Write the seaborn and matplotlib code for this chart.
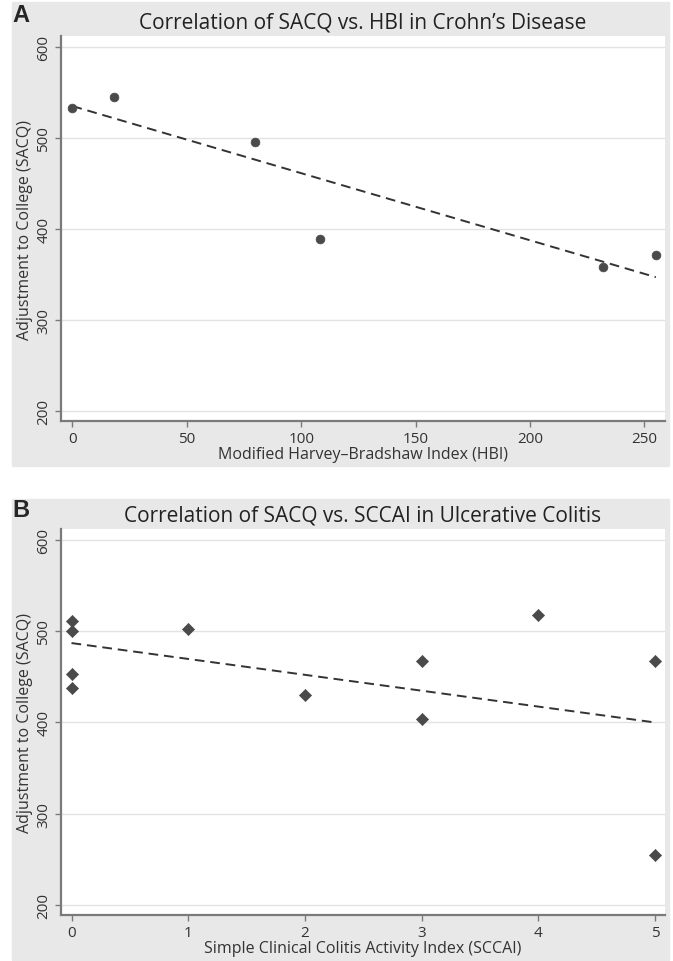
import seaborn as sns
import matplotlib.pyplot as plt
from matplotlib.patches import Rectangle

# Dados
hbi = [0, 18, 80, 108, 232, 255]
sacq_cd = [533, 545, 496, 389, 358, 371]
fit_cd_x = [0, 255]
fit_cd_y = [535, 347]

sccai = [0, 0, 0, 0, 1, 2, 3, 3, 4, 5, 5]
sacq_uc = [511, 500, 453, 438, 502, 430, 467, 404, 518, 467, 255]
fit_uc_x = [0, 5]
fit_uc_y = [487, 400]

y_ticks = [200, 300, 400, 500, 600]

sns.set_style("white")
plt.rcParams['font.family'] = ['Open Sans', 'DejaVu Sans']

W, H = 673, 962
fig = plt.figure(figsize=(W / 100, H / 100), dpi=100)

gray = '#e8e8e8'
axis_c = '#7a7a7a'
mark_c = '#4a4a4a'

# Fundo cinza de cada painel
fig.add_artist(Rectangle((12 / W, 1 - 467 / H), 657 / W, 464 / H,
                         transform=fig.transFigure, color=gray, zorder=0))
fig.add_artist(Rectangle((12 / W, 1 - 961 / H), 657 / W, 461 / H,
                         transform=fig.transFigure, color=gray, zorder=0))

axA = fig.add_axes([61 / W, 1 - 422 / H, 604 / W, 385 / H])
axB = fig.add_axes([61 / W, 1 - 916 / H, 604 / W, 386 / H])


def style(ax, xlim, xticks, xlabel, title):
    ax.set_facecolor('white')
    ax.set_ylim(189, 612)
    ax.set_xlim(*xlim)
    ax.set_yticks(y_ticks)
    ax.set_xticks(xticks)
    ax.yaxis.grid(True, color='#e2e2e2', lw=1)
    ax.set_axisbelow(True)
    for s in ['top', 'right']:
        ax.spines[s].set_visible(False)
    for s in ['left', 'bottom']:
        ax.spines[s].set_color(axis_c)
        ax.spines[s].set_linewidth(1.6)
    ax.tick_params(axis='both', direction='out', color=axis_c, length=4,
                   width=1, labelsize=11, labelcolor='#333333')
    ax.tick_params(axis='x', pad=3, bottom=True)
    ax.tick_params(axis='y', pad=3, left=True)
    for lab in ax.get_yticklabels():
        lab.set_rotation(90)
        lab.set_va('center')
    ax.set_ylabel('Adjustment to College (SACQ)', fontsize=11.5,
                  color='#333333', labelpad=2)
    ax.set_xlabel(xlabel, fontsize=11.5, color='#333333', labelpad=0)
    ax.set_title(title, fontsize=15, color='#222222', pad=6)


# Painel A
sns.scatterplot(x=hbi, y=sacq_cd, ax=axA, marker='o', s=40,
                color=mark_c, edgecolor=mark_c, zorder=3)
sns.lineplot(x=fit_cd_x, y=fit_cd_y, ax=axA, color='#333333', lw=1.4,
             zorder=2)
axA.lines[-1].set_dashes((5, 3))
style(axA, (-5, 259), [0, 50, 100, 150, 200, 250],
      'Modified Harvey\u2013Bradshaw Index (HBI)',
      'Correlation of SACQ vs. HBI in Crohn\u2019s Disease')

# Painel B
sns.scatterplot(x=sccai, y=sacq_uc, ax=axB, marker='D', s=38,
                color=mark_c, edgecolor=mark_c, zorder=3)
sns.lineplot(x=fit_uc_x, y=fit_uc_y, ax=axB, color='#333333', lw=1.4,
             zorder=2)
axB.lines[-1].set_dashes((5, 3))
style(axB, (-0.09, 5.086), [0, 1, 2, 3, 4, 5],
      'Simple Clinical Colitis Activity Index (SCCAI)',
      'Correlation of SACQ vs. SCCAI in Ulcerative Colitis')

fig.text(12 / W, 1 - 4 / H, 'A', fontsize=17, fontweight='bold',
         va='top', ha='left', family=['Liberation Sans', 'DejaVu Sans'])
fig.text(12 / W, 1 - 499 / H, 'B', fontsize=17, fontweight='bold',
         va='top', ha='left', family=['Liberation Sans', 'DejaVu Sans'])

fig.savefig('out.png', dpi=100)
